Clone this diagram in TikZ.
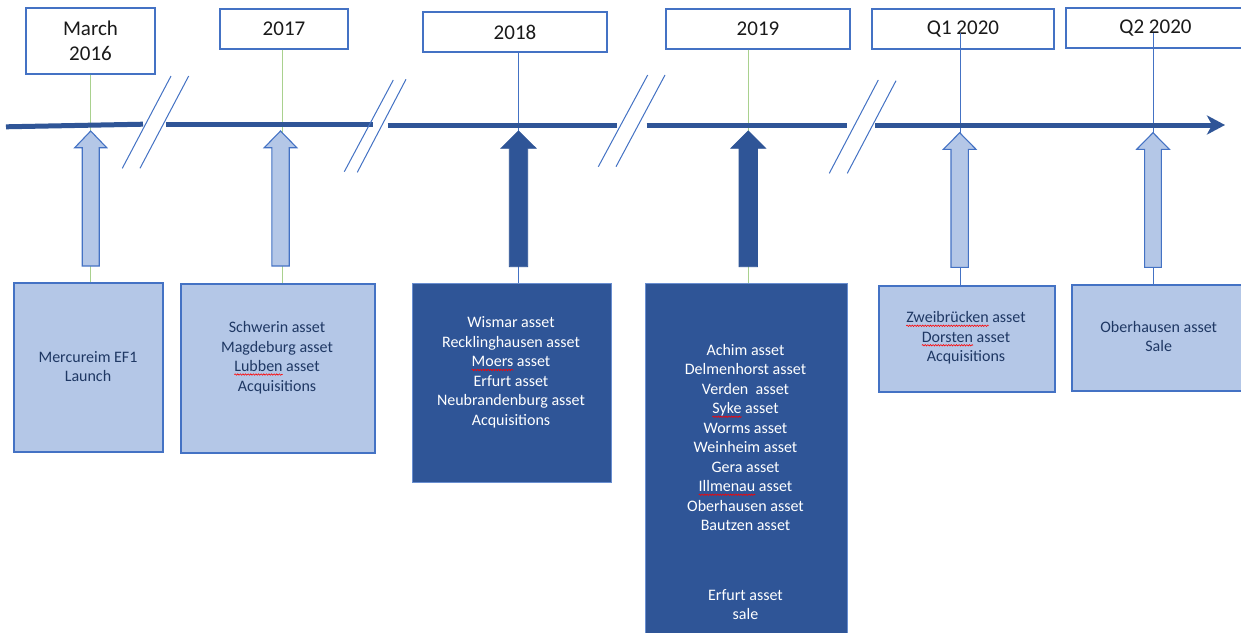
\documentclass[tikz,border=0pt]{standalone}
\usepackage{fontspec}
\setmainfont{Carlito}
\usetikzlibrary{arrows.meta,decorations.pathmorphing}
\definecolor{axisblue}{HTML}{2F5597}
\definecolor{lightfill}{HTML}{B4C7E7}
\definecolor{edgeblue}{HTML}{4472C4}
\definecolor{navytext}{HTML}{1F3864}
\definecolor{greenline}{HTML}{A9D18E}
\definecolor{hdrtext}{HTML}{1A1A1A}
\newsavebox\wavebox
\newcommand\spellwave[1]{\sbox\wavebox{#1}\rlap{\tikz[baseline=0pt,x=1pt,y=1pt]{\useasboundingbox (0,0);\draw[red, line width=0.6pt, decorate, decoration={snake, amplitude=0.7pt, segment length=2.6pt}] (0,-3) -- (\the\wd\wavebox,-3);}}#1}
\newcommand\blockarr[7]{%
  \draw[#1] (#2,#3) -- (#2+#4,#6) -- (#2+#5,#6) -- (#2+#5,#7) -- (#2-#5,#7)
    -- (#2-#5,#6) -- (#2-#4,#6) -- cycle;}
\begin{document}
\begin{tikzpicture}[x=1pt,y=-1pt,
  hdrbox/.style={draw=edgeblue, line width=1.1pt, fill=white, inner sep=0pt,
     text=hdrtext, font=\fontsize{21}{25}\selectfont, align=center},
  lightbox/.style={draw=edgeblue, line width=1.2pt, fill=lightfill, inner sep=0pt},
  darkbox/.style={draw=edgeblue!80!white, line width=0.8pt, fill=axisblue, inner sep=0pt},
  lighttext/.style={text=navytext, font=\fontsize{16}{19.5}\selectfont, align=center, inner sep=0pt},
  darktext/.style={text=white, font=\fontsize{16}{19.5}\selectfont, align=center, inner sep=0pt},
  axisline/.style={draw=axisblue, line width=5pt},
  breakline/.style={draw=edgeblue, line width=1pt},
  greenlink/.style={draw=greenline, line width=0.9pt},
  bluelink/.style={draw=edgeblue, line width=0.9pt},
  lightarrow/.style={draw=edgeblue, line width=1.1pt, fill=lightfill},
  darkarrow/.style={draw=axisblue, line width=0.8pt, fill=axisblue}]
\clip (0,0) rectangle (1241,632);
\fill[white] (0,0) rectangle (1241,632);

% header boxes
\node[hdrbox, minimum width=129pt, minimum height=66pt] (h1) at (90.5,41) {March\\2016};
\node[hdrbox, minimum width=128pt, minimum height=40pt] (h2) at (284,29) {2017};
\node[hdrbox, minimum width=184pt, minimum height=40pt] (h3) at (515,32) {2018};
\node[hdrbox, minimum width=184pt, minimum height=40pt] (h4) at (758,29) {2019};
\node[hdrbox, minimum width=182pt, minimum height=40pt] (h5) at (963,29) {Q1 2020};
\node[hdrbox, minimum width=179pt, minimum height=40pt] (h6) at (1155.5,28) {Q2 2020};

% lower boxes (shapes)
\node[lightbox, minimum width=149pt, minimum height=169pt] (b1) at (88.5,367.5) {};
\node[lightbox, minimum width=194pt, minimum height=169pt] (b2) at (278,368.5) {};
\node[darkbox, minimum width=199pt, minimum height=199pt] (b3) at (511.5,382.5) {};
\node[darkbox, minimum width=202pt, minimum height=360pt] (b4) at (746,463) {};
\node[lightbox, minimum width=176pt, minimum height=106pt] (b5) at (967,339) {};
\node[lightbox, minimum width=173pt, minimum height=106pt] (b6) at (1158.5,338) {};

% connector coordinates
\coordinate (c1) at (90.7,0);
\coordinate (c2) at (282.3,0);
\coordinate (c3) at (518.7,0);
\coordinate (c4) at (748.3,0);
\coordinate (c5top) at (960.7,33);
\coordinate (c6top) at (1153.3,33);

% vertical connectors
\draw[greenlink] (h1.south -| c1) -- (b1.north -| c1);
\draw[greenlink] (h2.south -| c2) -- (b2.north -| c2);
\draw[bluelink] (h3.south -| c3) -- (b3.north -| c3);
\draw[greenlink] (h4.south -| c4) -- (b4.north -| c4);
\draw[bluelink] (c5top) -- (b5.north -| c5top);
\draw[bluelink] (c6top) -- (b6.north -| c6top);

% axis segments
\coordinate (a1s) at (6,126.8);  \coordinate (a1e) at (143,124.2);
\coordinate (a2s) at (165.7,124.5); \coordinate (a2e) at (373.3,124.5);
\coordinate (a3s) at (387.7,125); \coordinate (a3e) at (616.7,125);
\coordinate (a4s) at (646.7,125); \coordinate (a4e) at (846.7,125);
\coordinate (a5s) at (875,125); \coordinate (a5e) at (1225,125);
\draw[axisline] (a1s) -- (a1e);
\draw[axisline] (a2s) -- (a2e);
\draw[axisline] (a3s) -- (a3e);
\draw[axisline] (a4s) -- (a4e);
\draw[axisline, -{Stealth[length=18pt,width=19pt,inset=5pt]}] (a5s) -- (a5e);

% break marks
\draw[breakline] (122.3,168.3) -- (171,76);
\draw[breakline] (140,168.3) -- (188.7,76);
\draw[breakline] (344.3,171.7) -- (393.3,80);
\draw[breakline] (357.3,172.3) -- (406,79.3);
\draw[breakline] (598.3,166.7) -- (647.7,75);
\draw[breakline] (616,166.7) -- (665,75);
\draw[breakline] (829.3,173.3) -- (878.3,80);
\draw[breakline] (847.3,173.3) -- (896,80.7);

% block arrows
\blockarr{lightarrow}{90.7}{131}{16}{8.5}{147.7}{266}
\blockarr{lightarrow}{280.5}{131}{16.3}{8.7}{147.7}{266}
\blockarr{darkarrow}{518.5}{131}{17.5}{9.2}{148.3}{266.7}
\blockarr{darkarrow}{748.3}{131}{17.3}{9.2}{148.3}{266.7}
\blockarr{lightarrow}{959.7}{132.7}{16.3}{8.7}{149.3}{267.3}
\blockarr{lightarrow}{1153}{132.7}{16.3}{8.4}{149.3}{267.3}

% box texts
\node[lighttext] (t1) at (88,366.5) {Mercureim EF1\\Launch};
\node[lighttext] (t2) at (277,357.5) {Schwerin asset\\Magdeburg asset\\\spellwave{Lubben} asset\\Acquisitions};
\node[darktext] (t3) at (511,372.5) {Wismar asset\\Recklinghausen asset\\\spellwave{Moers} asset\\Erfurt asset\\Neubrandenburg asset\\Acquisitions};
\node[darktext] (t4a) at (745.5,437.5) {Achim asset\\Delmenhorst asset\\Verden\ \ asset\\\spellwave{Syke} asset\\Worms asset\\Weinheim asset\\Gera asset\\\spellwave{Illmenau} asset\\Oberhausen asset\\Bautzen asset};
\node[darktext] (t4b) at (745.5,604.5) {Erfurt asset\\sale};
\node[lighttext] (t5) at (966,338) {\spellwave{Zweibrücken} asset\\\spellwave{Dorsten} asset\\Acquisitions};
\node[lighttext] (t6) at (1158.7,336.5) {Oberhausen asset\\Sale};
\end{tikzpicture}
\end{document}
